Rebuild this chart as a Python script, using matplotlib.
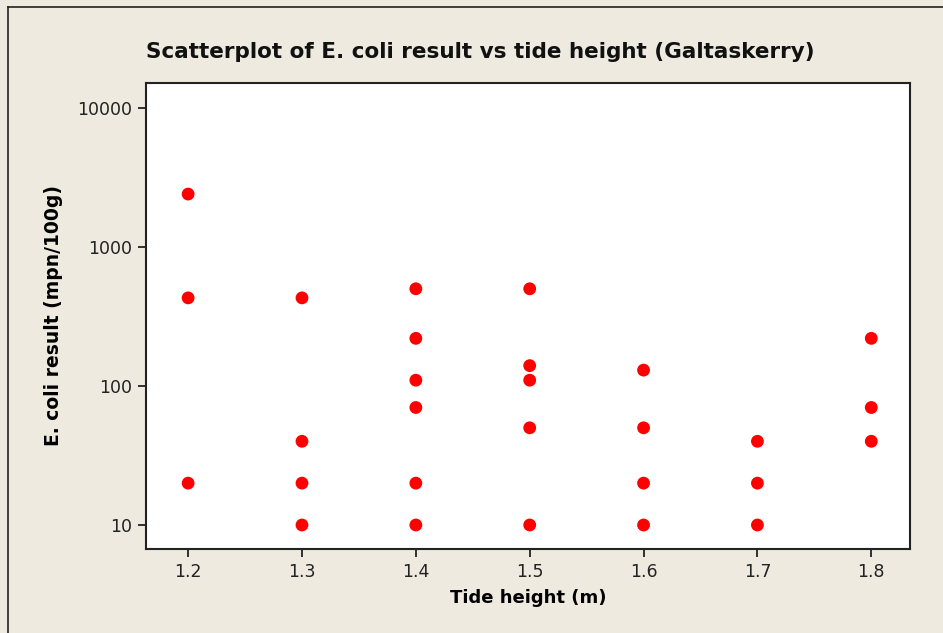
import matplotlib.pyplot as plt
from matplotlib.lines import Line2D

# tide height (m) and E. coli result (mpn/100g)
tide = [1.2, 1.2, 1.2,
        1.3, 1.3, 1.3, 1.3,
        1.4, 1.4, 1.4, 1.4, 1.4, 1.4,
        1.5, 1.5, 1.5, 1.5, 1.5,
        1.6, 1.6, 1.6, 1.6,
        1.7, 1.7, 1.7,
        1.8, 1.8, 1.8]
ecoli = [2400, 430, 20,
         430, 40, 20, 10,
         500, 220, 110, 70, 20, 10,
         500, 140, 110, 50, 10,
         130, 50, 20, 10,
         40, 20, 10,
         220, 70, 40]

x_ticks = [1.2, 1.3, 1.4, 1.5, 1.6, 1.7, 1.8]
y_ticks = [10, 100, 1000, 10000]

bg = "#EEEAE0"
plt.rcParams["font.family"] = "DejaVu Sans"

fig = plt.figure(figsize=(9.43, 6.33), dpi=100, facecolor=bg)
W, H = 943, 633
ax = fig.add_axes([146 / W, 1 - 549 / H, (910 - 146) / W, (549 - 83) / H])

ax.scatter(tide, ecoli, s=85, color="#FF0000", edgecolors="none", zorder=3)

ax.set_yscale("log")
ax.set_xlim(1.163, 1.834)
ax.set_ylim(6.72, 15100)
ax.set_xticks(x_ticks)
ax.set_xticklabels([f"{v:.1f}" for v in x_ticks])
ax.set_yticks(y_ticks)
ax.set_yticklabels([str(v) for v in y_ticks])
ax.yaxis.set_minor_locator(plt.NullLocator())
ax.tick_params(axis="both", direction="out", length=6, width=1.3,
               labelsize=12.5, colors="#222222", pad=4)

for sp in ax.spines.values():
    sp.set_linewidth(1.5)
    sp.set_color("#222222")

ax.set_xlabel("Tide height (m)", fontsize=13, fontweight="bold", labelpad=6)
ax.set_ylabel("E. coli result (mpn/100g)", fontsize=13.5, fontweight="bold", labelpad=10)

fig.text(480 / W, 1 - 52 / H,
         "Scatterplot of E. coli result vs tide height (Galtaskerry)",
         ha="center", va="center", fontsize=15.5, fontweight="bold", color="#111111")

# outer frame lines (top and left)
fig.add_artist(Line2D([8 / W, 1], [1 - 7 / H, 1 - 7 / H], color="#222222", linewidth=1.2,
                      transform=fig.transFigure))
fig.add_artist(Line2D([8 / W, 8 / W], [0, 1 - 7 / H], color="#222222", linewidth=1.2,
                      transform=fig.transFigure))

fig.savefig("out.png", dpi=100, facecolor=bg)
